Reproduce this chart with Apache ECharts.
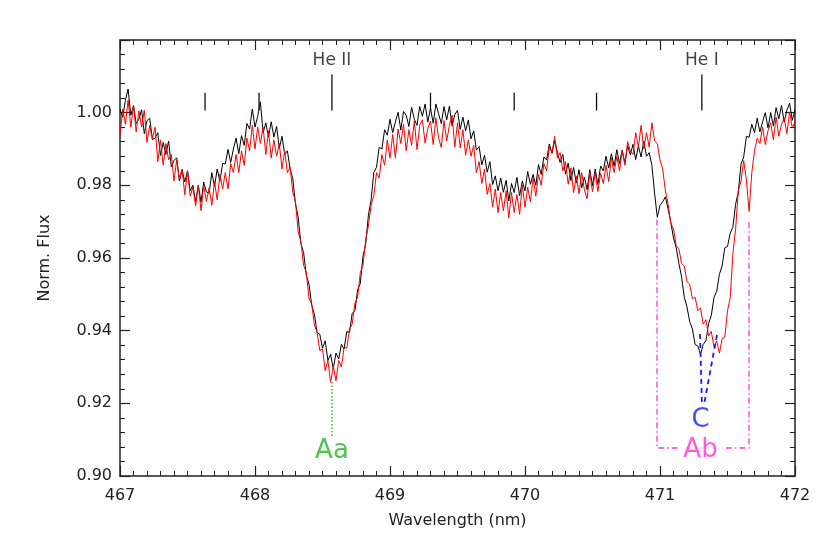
<!DOCTYPE html>
<html>
<head>
<meta charset="utf-8">
<script src="https://cdn.jsdelivr.net/npm/echarts@6/dist/echarts.min.js"></script>
<style>
  html, body { margin: 0; padding: 0; background: #fff; }
  #chart { width: 830px; height: 554px; }
</style>
</head>
<body>
<div id="chart"></div>
<script>
// spectra sampled every 0.02 nm from 467.00 to 472.00 (one row = 0.1 nm)
var lambdaStart = 467.0;
var lambdaStep = 0.02;

var fluxBlack = [
  1.0010, 0.9987, 1.0034, 1.0065, 0.9993,
  1.0020, 0.9970, 0.9982, 1.0008, 0.9942,
  0.9978, 0.9985, 0.9926, 0.9930, 0.9945,
  0.9882, 0.9918, 0.9885, 0.9922, 0.9851,
  0.9868, 0.9876, 0.9812, 0.9842, 0.9809,
  0.9840, 0.9785, 0.9800, 0.9756, 0.9800,
  0.9754, 0.9809, 0.9782, 0.9778, 0.9835,
  0.9797, 0.9845, 0.9811, 0.9860, 0.9859,
  0.9899, 0.9863, 0.9900, 0.9930, 0.9887,
  0.9937, 0.9910, 0.9970, 0.9955, 1.0010,
  0.9960, 0.9990, 1.0030, 0.9944, 0.9972,
  0.9933, 0.9975, 0.9933, 0.9962, 0.9902,
  0.9935, 0.9885, 0.9895, 0.9845, 0.9818,
  0.9748, 0.9712, 0.9640, 0.9615, 0.9552,
  0.9528, 0.9470, 0.9445, 0.9395, 0.9390,
  0.9352, 0.9372, 0.9318, 0.9335, 0.9295,
  0.9338, 0.9322, 0.9362, 0.9350, 0.9398,
  0.9395, 0.9448, 0.9455, 0.9512, 0.9530,
  0.9605, 0.9638, 0.9718, 0.9760, 0.9835,
  0.9850, 0.9905, 0.9900, 0.9953, 0.9938,
  0.9982, 0.9945, 0.9975, 1.0001, 0.9952,
  1.0003, 0.9993, 0.9962, 1.0015, 0.9982,
  0.9965, 1.0017, 0.9990, 1.0024, 0.9974,
  1.0012, 0.9971, 1.0024, 0.9997, 0.9970,
  1.0017, 0.9980, 1.0018, 0.9963, 0.9995,
  1.0006, 0.9954, 0.9988, 0.9950, 0.9980,
  0.9928, 0.9950, 0.9897, 0.9907, 0.9856,
  0.9883, 0.9836, 0.9865, 0.9802, 0.9826,
  0.9785, 0.9820, 0.9781, 0.9814, 0.9757,
  0.9805, 0.9780, 0.9822, 0.9771, 0.9812,
  0.9785, 0.9838, 0.9803, 0.9830, 0.9800,
  0.9857, 0.9830, 0.9878, 0.9870, 0.9914,
  0.9888, 0.9923, 0.9890, 0.9863, 0.9885,
  0.9831, 0.9861, 0.9813, 0.9849, 0.9806,
  0.9843, 0.9793, 0.9823, 0.9788, 0.9843,
  0.9799, 0.9845, 0.9802, 0.9853, 0.9840,
  0.9880, 0.9848, 0.9887, 0.9853, 0.9898,
  0.9860, 0.9897, 0.9861, 0.9909, 0.9884,
  0.9913, 0.9871, 0.9908, 0.9878, 0.9922,
  0.9880, 0.9890, 0.9855, 0.9778, 0.9712,
  0.9745, 0.9755, 0.9768, 0.9735, 0.9698,
  0.9655, 0.9628, 0.9585, 0.9548, 0.9492,
  0.9465, 0.9425, 0.9405, 0.9362, 0.9358,
  0.9335, 0.9362, 0.9372, 0.9420, 0.9442,
  0.9492, 0.9508, 0.9555, 0.9578, 0.9628,
  0.9632, 0.9668, 0.9685, 0.9748, 0.9782,
  0.9858, 0.9878, 0.9935, 0.9932, 0.9968,
  0.9945, 0.9985, 0.9947, 0.9975, 1.0000,
  0.9958, 1.0000, 0.9963, 1.0014, 0.9983,
  1.0020, 0.9974, 1.0007, 1.0026, 0.9979,
  1.0008
];

var fluxRed = [
  0.9935, 1.0010, 0.9968, 1.0035, 0.9960,
  1.0020, 0.9947, 1.0005, 0.9960, 1.0007,
  0.9918, 0.9965, 0.9928, 0.9960, 0.9865,
  0.9925, 0.9855, 0.9915, 0.9870, 0.9885,
  0.9812, 0.9870, 0.9815, 0.9845, 0.9774,
  0.9840, 0.9770, 0.9795, 0.9743, 0.9800,
  0.9730, 0.9800, 0.9755, 0.9793, 0.9745,
  0.9810, 0.9760, 0.9830, 0.9790, 0.9835,
  0.9790, 0.9860, 0.9835, 0.9885, 0.9835,
  0.9895, 0.9855, 0.9930, 0.9895, 0.9965,
  0.9900, 0.9960, 0.9915, 0.9960, 0.9885,
  0.9950, 0.9875, 0.9925, 0.9880, 0.9915,
  0.9845, 0.9895, 0.9835, 0.9850, 0.9780,
  0.9755, 0.9672, 0.9645, 0.9580, 0.9560,
  0.9488, 0.9475, 0.9415, 0.9395, 0.9345,
  0.9350, 0.9290, 0.9318, 0.9258, 0.9302,
  0.9262, 0.9318, 0.9300, 0.9355, 0.9352,
  0.9405, 0.9418, 0.9475, 0.9492, 0.9560,
  0.9580, 0.9650, 0.9688, 0.9745, 0.9772,
  0.9835, 0.9820, 0.9885, 0.9855, 0.9925,
  0.9875, 0.9940, 0.9875, 0.9955, 0.9915,
  0.9968, 0.9895, 0.9953, 0.9910, 0.9977,
  0.9898, 0.9965, 0.9980, 0.9916, 0.9956,
  0.9977, 0.9912, 0.9986, 0.9930, 0.9904,
  0.9978, 0.9922, 0.9965, 0.9993, 0.9905,
  0.9972, 0.9903, 0.9953, 0.9883, 0.9925,
  0.9880, 0.9910, 0.9835, 0.9865, 0.9805,
  0.9845, 0.9775, 0.9805, 0.9740, 0.9790,
  0.9725, 0.9780, 0.9730, 0.9785, 0.9710,
  0.9780, 0.9725, 0.9775, 0.9720, 0.9800,
  0.9740, 0.9795, 0.9755, 0.9820, 0.9770,
  0.9830, 0.9800, 0.9860, 0.9840, 0.9905,
  0.9890, 0.9935, 0.9875, 0.9890, 0.9840,
  0.9865, 0.9803, 0.9848, 0.9780, 0.9825,
  0.9777, 0.9835, 0.9788, 0.9763, 0.9835,
  0.9782, 0.9835, 0.9783, 0.9833, 0.9805,
  0.9855, 0.9810, 0.9875, 0.9835, 0.9880,
  0.9840, 0.9895, 0.9855, 0.9920, 0.9895,
  0.9885, 0.9945, 0.9905, 0.9965, 0.9900,
  0.9945, 0.9905, 0.9972, 0.9922, 0.9915,
  0.9870, 0.9845, 0.9785, 0.9748, 0.9695,
  0.9680, 0.9635, 0.9625, 0.9585, 0.9578,
  0.9535, 0.9528, 0.9488, 0.9492, 0.9455,
  0.9462, 0.9418, 0.9430, 0.9385, 0.9398,
  0.9355, 0.9372, 0.9338, 0.9378, 0.9382,
  0.9455, 0.9490, 0.9612, 0.9680, 0.9785,
  0.9812, 0.9868, 0.9815, 0.9728, 0.9835,
  0.9895, 0.9930, 0.9915, 0.9960, 0.9912,
  0.9950, 0.9972, 0.9925, 0.9988, 0.9935,
  0.9968, 0.9985, 0.9942, 1.0002, 0.9958,
  0.9975
];

// line identification marks along the top
var markLambda = [467.63, 468.03, 468.57, 469.30, 469.92, 470.53, 471.31];
var markLong = [false, false, true, false, false, false, true];
var markBase = 1.0006, markTopShort = 1.0055, markTopLong = 1.0105;
var ionLabels = [{ name: 'He II', x: 468.57, y: 1.0143 }, { name: 'He I', x: 471.31, y: 1.0143 }];

// component annotations
var aaLine = { x: 468.57, y0: 0.9259, y1: 0.9105 };
var aaLabel = { x: 468.57, y: 0.9069 };
var cLinesFrom = [[471.31, 0.9204], [471.33, 0.9204]];
var cLinesTo = [[471.296, 0.9394], [471.422, 0.9388]];
var cLabel = { x: 471.30, y: 0.9154 };
var abBox = { x0: 470.978, x1: 471.659, yTop: 0.9705, yBase: 0.9077 };
var abLabel = { x: 471.30, y: 0.9072 };

var xTickValues = [467, 468, 469, 470, 471, 472];
var yTickValues = [0.90, 0.92, 0.94, 0.96, 0.98, 1.00, 1.02];

var FONT = 'DejaVu Sans';
var AXIS_COLOR = '#222';

function spectrum(flux) {
  var out = [];
  for (var i = 0; i < flux.length; i++) {
    out.push([lambdaStart + i * lambdaStep, flux[i]]);
  }
  return out;
}

function segment(points, color, type, width) {
  return {
    type: 'line', data: points, symbol: 'none', silent: true, z: 5,
    lineStyle: { color: color, type: type || 'solid', width: width || 1.2 }
  };
}

function textMark(items, color, size, extra) {
  var label = Object.assign({
    show: true, position: 'inside', formatter: '{b}',
    color: color, fontSize: size, fontFamily: FONT
  }, extra || {});
  return {
    type: 'scatter', symbolSize: 1, silent: true, z: 6,
    itemStyle: { color: 'rgba(0,0,0,0)' },
    data: items.map(function (t) { return { name: t.name, value: [t.x, t.y] }; }),
    label: label
  };
}

function xAxisCfg(top) {
  return {
    type: 'value', min: xTickValues[0], max: xTickValues[xTickValues.length - 1], interval: 1,
    position: top ? 'top' : 'bottom',
    name: top ? '' : 'Wavelength (nm)', nameLocation: 'middle', nameGap: 37,
    nameTextStyle: { color: AXIS_COLOR, fontSize: 16, fontFamily: FONT },
    axisLine: { show: true, onZero: false, lineStyle: { color: AXIS_COLOR, width: 1.5 } },
    axisTick: { show: true, inside: true, length: 10, lineStyle: { color: AXIS_COLOR, width: 1.2 } },
    minorTick: { show: true, splitNumber: 10, length: 5, lineStyle: { color: AXIS_COLOR, width: 1 } },
    axisLabel: {
      show: !top, margin: 12, color: AXIS_COLOR, fontSize: 16, fontFamily: FONT,
      formatter: function (v) { return String(Math.round(v)); }
    },
    splitLine: { show: false }
  };
}

function yAxisCfg(right) {
  return {
    type: 'value', min: yTickValues[0], max: yTickValues[yTickValues.length - 1], interval: 0.02,
    position: right ? 'right' : 'left',
    name: right ? '' : 'Norm. Flux', nameLocation: 'middle', nameGap: 67,
    nameTextStyle: { color: AXIS_COLOR, fontSize: 16, fontFamily: FONT },
    axisLine: { show: true, onZero: false, lineStyle: { color: AXIS_COLOR, width: 1.5 } },
    axisTick: { show: true, inside: true, length: 10, lineStyle: { color: AXIS_COLOR, width: 1.2 } },
    minorTick: { show: true, splitNumber: 5, length: 5, lineStyle: { color: AXIS_COLOR, width: 1 } },
    axisLabel: {
      show: !right, margin: 8, color: AXIS_COLOR, fontSize: 16, fontFamily: FONT,
      formatter: function (v) { return Math.abs(v - 1.02) < 1e-6 ? '' : v.toFixed(2); }
    },
    splitLine: { show: false }
  };
}

var series = [
  {
    type: 'line', data: spectrum(fluxBlack), symbol: 'none', silent: true, z: 2,
    lineStyle: { color: '#000', width: 1 }
  },
  {
    type: 'line', data: spectrum(fluxRed), symbol: 'none', silent: true, z: 3,
    lineStyle: { color: '#ff0000', width: 1 }
  }
];

markLambda.forEach(function (x, i) {
  series.push(segment([[x, markBase], [x, markLong[i] ? markTopLong : markTopShort]], '#111', 'solid', 1.3));
});
series.push(textMark(ionLabels, '#111', 17));

series.push(segment([[aaLine.x, aaLine.y0], [aaLine.x, aaLine.y1]], '#22b422', [1.5, 2], 1.5));
series.push(textMark([{ name: 'Aa', x: aaLabel.x, y: aaLabel.y }], '#22b422', 26));

cLinesFrom.forEach(function (p, i) {
  series.push(segment([p, cLinesTo[i]], '#1a1aff', [5, 4], 1.8));
});
series.push(textMark([{ name: 'C', x: cLabel.x, y: cLabel.y }], '#1a1aff', 26));

series.push(segment([
  [abBox.x0, abBox.yTop], [abBox.x0, abBox.yBase],
  [abBox.x1, abBox.yBase], [abBox.x1, abBox.yTop]
], '#ff33cc', [6, 3, 1.5, 3], 1.3));
series.push(textMark([{ name: 'Ab', x: abLabel.x, y: abLabel.y }], '#ff33cc', 26,
  { backgroundColor: '#fff', padding: [0, 6] }));

var chart = echarts.init(document.getElementById('chart'), null, { renderer: 'canvas' });
chart.setOption({
  animation: false,
  backgroundColor: '#fff',
  grid: { left: 120, right: 35, top: 40, bottom: 78, containLabel: false },
  xAxis: [xAxisCfg(false), xAxisCfg(true)],
  yAxis: [yAxisCfg(false), yAxisCfg(true)],
  series: series
});
</script>
</body>
</html>
